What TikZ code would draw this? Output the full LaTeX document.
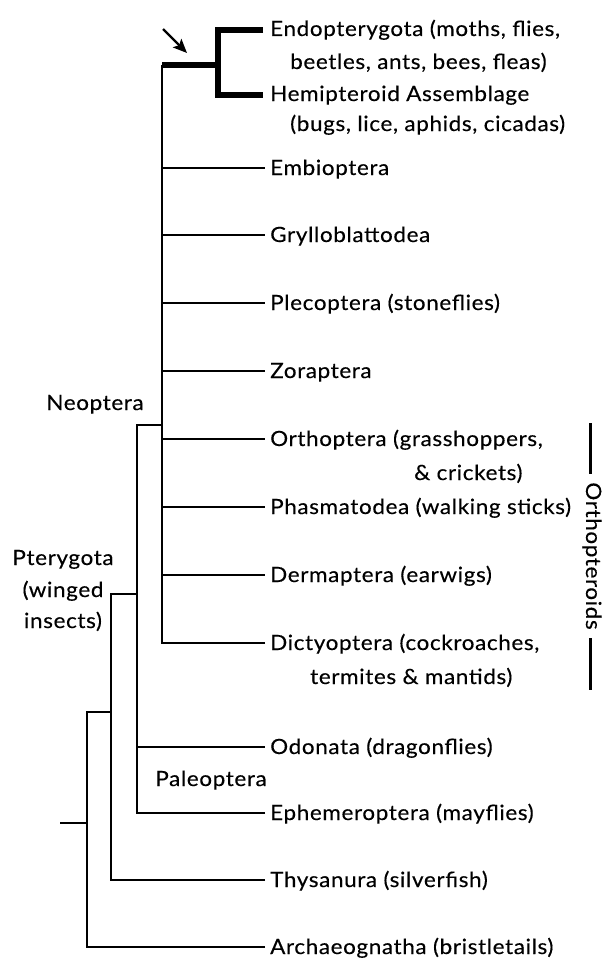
\documentclass[tikz,border=0pt]{standalone}
\usepackage{fontspec}
\setmainfont{Lato}[FakeStretch=1.07,LetterSpace=3,FakeBold=0.3]
\usetikzlibrary{arrows.meta}
\begin{document}
\begin{tikzpicture}[x=1pt,y=-1pt,
  br/.style={line width=2.3pt, line join=miter},
  tk/.style={line width=6pt, line join=miter},
  ol/.style={line width=3pt},
  txt/.style={inner sep=0pt, font=\fontsize{21}{25}\selectfont},
  lab/.style={txt, anchor=base west},
  grp/.style={txt, anchor=base},
]
\useasboundingbox (0,0) rectangle (611,958);
% leaf ends
\coordinate (eEndo) at (263,30);
\coordinate (eHemi) at (263,95);
\coordinate (eEmb)  at (265,168);
\coordinate (eGry)  at (265,235);
\coordinate (ePle)  at (265,303);
\coordinate (eZor)  at (265,371);
\coordinate (eOrt)  at (265,439);
\coordinate (ePha)  at (265,507);
\coordinate (eDer)  at (265,575);
\coordinate (eDic)  at (265,643);
\coordinate (eOdo)  at (265,747);
\coordinate (eEph)  at (265,813);
\coordinate (eThy)  at (265,880);
\coordinate (eArc)  at (265,947);
% internal junctions
\coordinate (rootL) at (60,823);
\coordinate (rootV) at (87,823);
\coordinate (pterJ) at (111,712);
\coordinate (wingJ) at (137,594);
\coordinate (neoJ)  at (162,425);
\coordinate (topL)  at (162,65);
\coordinate (topJ)  at (218,65);
% tree
\draw[br] (rootL) -- (rootV);
\draw[br] (eArc) -| (rootV) |- (pterJ);
\draw[br] (eThy) -| (pterJ) |- (wingJ);
\draw[br] (eEph) -| (wingJ) |- (neoJ);
\draw[br] (wingJ |- eOdo) -- (eOdo);
\draw[br] (eDic) -| (neoJ) -- (topL);
\foreach \e in {eEmb,eGry,ePle,eZor,eOrt,ePha,eDer}
  \draw[br] (neoJ |- \e) -- (\e);
\draw[tk] (topL) -- (topJ);
\draw[tk] (eEndo) -| (topJ) |- (eHemi);
% arrow
\coordinate (arS) at (163,29);
\coordinate (arE) at (187,53);
\draw[line width=2.2pt, -{Stealth[length=14pt,width=12pt,inset=3pt]}] (arS) -- (arE);
% leaf labels
\node[lab] (lEndo) at ([shift={(7,6)}]eEndo) {Endopterygota (moths, flies,};
\node[lab] (lEndo2) at (290,69) {beetles, ants, bees, fleas)};
\node[lab] (lHemi) at ([shift={(7,6)}]eHemi) {Hemipteroid Assemblage};
\node[lab] (lHemi2) at (290,131) {(bugs, lice, aphids, cicadas)};
\node[lab] (lEmb) at ([shift={(5,7)}]eEmb) {Embioptera};
\node[lab] (lGry) at ([shift={(5,7)}]eGry) {Grylloblattodea};
\node[lab] (lPle) at ([shift={(5,7)}]ePle) {Plecoptera (stoneflies)};
\node[lab] (lZor) at ([shift={(5,7)}]eZor) {Zoraptera};
\node[lab] (lOrt) at ([shift={(5,7)}]eOrt) {Orthoptera (grasshoppers,};
\node[lab] (lOrt2) at (414,480) {\& crickets)};
\node[lab] (lPha) at ([shift={(5,7)}]ePha) {Phasmatodea (walking sticks)};
\node[lab] (lDer) at ([shift={(5,7)}]eDer) {Dermaptera (earwigs)};
\node[lab] (lDic) at ([shift={(5,7)}]eDic) {Dictyoptera (cockroaches,};
\node[lab] (lDic2) at (310,684) {termites \& mantids)};
\node[lab] (lOdo) at ([shift={(5,7)}]eOdo) {Odonata (dragonflies)};
\node[lab] (lEph) at ([shift={(5,7)}]eEph) {Ephemeroptera (mayflies)};
\node[lab] (lThy) at ([shift={(5,7)}]eThy) {Thysanura (silverfish)};
\node[lab] (lArc) at ([shift={(5,7)}]eArc) {Archaeognatha (bristletails)};
% group labels
\node[grp] (gNeo) at (95,410) {Neoptera};
\node[grp] (gPte) at (63,565) {Pterygota};
\node[grp] (gPte2) at (63,597) {(winged};
\node[grp] (gPte3) at (63,628) {insects)};
\node[grp] (gPal) at (211,786) {Paleoptera};
% orthopteroids bracket
\node[txt, rotate=-90] (gOrt) at (592,556) {Orthopteroids};
\coordinate (oT1) at (590,423);
\coordinate (oT2) at (590,474);
\coordinate (oB1) at (590,638);
\coordinate (oB2) at (590,690);
\draw[ol] (oT1) -- (oT2);
\draw[ol] (oB1) -- (oB2);
\end{tikzpicture}
\end{document}
